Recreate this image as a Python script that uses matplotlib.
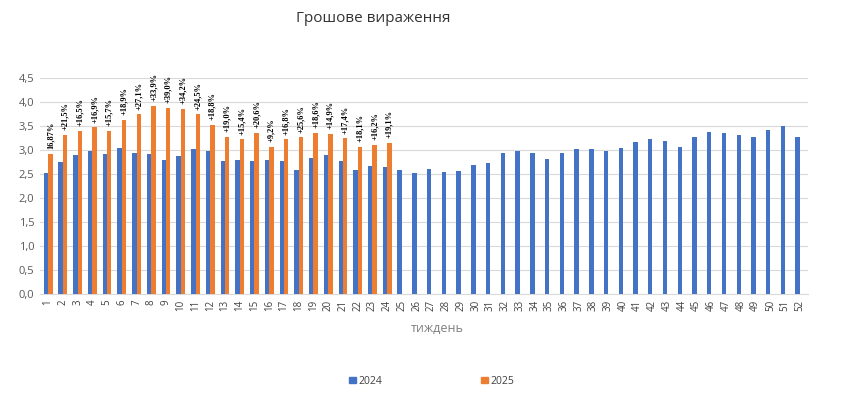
import numpy as np
import matplotlib
matplotlib.use('Agg')
import matplotlib.pyplot as plt
from matplotlib.patches import Patch

# weekly values
weeks = list(range(1, 53))
values_2024 = [2.51, 2.74, 2.90, 2.97, 2.92, 3.05, 2.94, 2.92, 2.80, 2.88,
               3.01, 2.97, 2.76, 2.80, 2.78, 2.80, 2.76, 2.59, 2.84, 2.90,
               2.76, 2.59, 2.67, 2.65, 2.59, 2.53, 2.61, 2.55, 2.57, 2.69,
               2.72, 2.94, 2.97, 2.94, 2.82, 2.94, 3.03, 3.03, 2.97, 3.05,
               3.17, 3.22, 3.19, 3.07, 3.28, 3.38, 3.36, 3.32, 3.28, 3.42,
               3.49, 3.28]
values_2025 = [2.92, 3.32, 3.39, 3.47, 3.39, 3.63, 3.74, 3.92, 3.88, 3.86,
               3.74, 3.53, 3.28, 3.22, 3.36, 3.07, 3.22, 3.26, 3.36, 3.34,
               3.24, 3.07, 3.11, 3.15]
growth_labels = ['16,87%', '+21,5%', '+16,5%', '+16,9%', '+15,7%', '+18,9%',
                 '+27,1%', '+33,9%', '+39,0%', '+34,2%', '+24,5%', '+18,8%',
                 '+19,0%', '+15,4%', '+20,6%', '+9,2%', '+16,8%', '+25,6%',
                 '+18,6%', '+14,9%', '+17,4%', '+18,1%', '+16,2%', '+19,1%']
y_ticks = [0, 0.5, 1.0, 1.5, 2.0, 2.5, 3.0, 3.5, 4.0, 4.5]

blue = '#4472C4'
orange = '#ED7D31'
grey = '#595959'

fig = plt.figure(figsize=(8.5, 3.95), dpi=100)
ax = fig.add_axes([40 / 850, 0.2557, 768 / 850, 0.547])

x = np.arange(len(weeks))
x25 = np.arange(len(values_2025))
w = 0.3
ax.bar(x - w / 2, values_2024, width=w, color=blue, zorder=3)
bars25 = ax.bar(x25 + w / 2, values_2025, width=w, color=orange, zorder=3)

for b, lab in zip(bars25, growth_labels):
    ax.text(b.get_x() + b.get_width() / 2, b.get_height() + 0.1, lab,
            rotation=90, ha='center', va='bottom', fontsize=6,
            family='Liberation Serif', fontweight='bold', color='black')

ax.set_xlim(-0.55, len(weeks) - 0.45)
ax.set_ylim(0, 4.5)
ax.set_yticks(y_ticks)
ax.set_yticklabels([f'{v:.1f}'.replace('.', ',') for v in y_ticks],
                   fontsize=8, color=grey, family='Open Sans')
ax.set_xticks(x)
ax.set_xticklabels([str(wk) for wk in weeks], rotation=90, fontsize=7,
                   color='#404040', family='Open Sans')
ax.tick_params(axis='both', length=0, pad=4)
ax.grid(axis='y', color='#d9d9d9', linewidth=0.8, zorder=0)
for s in ['top', 'right', 'left']:
    ax.spines[s].set_visible(False)
ax.spines['bottom'].set_color('#d9d9d9')

fig.text(373 / 850, 0.954, 'Грошове вираження', ha='center', va='center',
         fontsize=11, color='#333333', family='Open Sans')
fig.text(437 / 850, 1 - 328 / 395, 'тиждень', ha='center', va='center',
         fontsize=9, color='#7f7f7f', family='Open Sans')

handles = [Patch(color=blue, label='2024'), Patch(color=orange, label='2025')]
leg = fig.legend(handles=handles, ncol=2, loc='center',
                 bbox_to_anchor=(432 / 850, 1 - 381 / 395), frameon=False,
                 handlelength=0.6, handleheight=0.6, handletextpad=0.3,
                 columnspacing=9.5, prop={'family': 'Open Sans', 'size': 7.5})
for t in leg.get_texts():
    t.set_color('#404040')

fig.savefig('out.png', dpi=100)
